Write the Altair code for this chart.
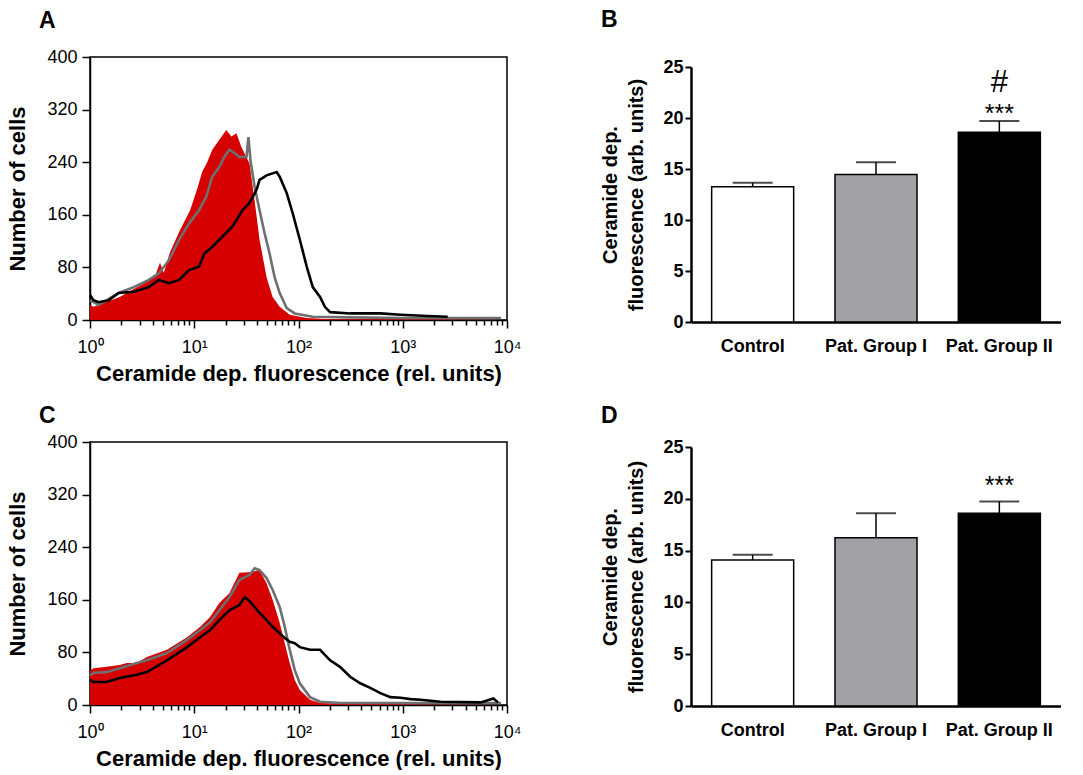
import altair as alt
import pandas as pd

FONT = "Liberation Sans"

# ---------------- Histogram data (fluorescence rel. units, number of cells) ----------------
RED_A_X = [1.0, 1.08, 1.35, 1.93, 2.81, 3.75, 4.2, 4.69, 5.1, 5.85, 7.31, 9.13, 10.7, 11.9, 13.3, 14.9,
           17.4, 20.3, 22.7, 25.4, 28.3, 33.9, 37.9, 42.3, 49.4, 56.5, 66.0, 82.4, 120, 200, 500, 2000, 8770]
RED_A_Y = [23, 20, 26, 35, 50, 61, 66, 87, 72, 103, 137, 167, 200, 225, 240, 259,
           274, 289, 279, 284, 263, 238, 182, 122, 65, 35, 20, 8, 3, 1, 1, 1, 0]
GRAY_A_X = [1.0, 1.21, 1.44, 1.88, 2.63, 3.67, 4.58, 5.72, 7.15, 8.93, 11.1, 13.0, 14.9, 17.4, 19.4, 21.7,
            24.3, 27.1, 31.7, 33.1, 34.6, 37.9, 42.3, 47.3, 52.8, 59.0, 66.0, 77.1, 92.1, 137, 300, 1000, 3000, 8770]
GRAY_A_Y = [30, 23, 30, 41, 50, 61, 71, 91, 122, 147, 167, 187, 218, 233, 248, 259,
            254, 248, 248, 278, 243, 203, 167, 132, 101, 65, 41, 18, 10, 5, 4, 3, 3, 3]
BLACK_A_X = [1.0, 1.08, 1.21, 1.51, 1.88, 2.63, 3.67, 4.58, 5.72, 7.15, 8.93, 11.1, 12.5, 14.6, 17.4, 23.2,
             29.0, 33.9, 39.6, 42.3, 49.4, 61.7, 66.0, 77.1, 88.1, 103, 120, 137, 161, 179, 201, 313, 488,
             610, 951, 1731, 2699]
BLACK_A_Y = [38, 30, 27, 30, 41, 43, 50, 61, 56, 61, 76, 81, 101, 110, 122, 142,
             167, 178, 198, 213, 220, 225, 218, 193, 162, 122, 81, 50, 35, 20, 12, 10, 10,
             10, 8, 6, 5]

RED_C_X = [1.0, 1.08, 1.44, 1.93, 2.25, 2.81, 3.51, 5.47, 8.54, 11.4, 14.2, 17.4, 21.7, 27.1, 33.9, 42.3,
           49.4, 56.5, 66.0, 73.8, 82.4, 92.1, 103, 129, 161, 300, 1000, 8770]
RED_C_Y = [52, 56, 58, 61, 64, 64, 73, 84, 103, 119, 134, 155, 170, 201, 202, 205,
           185, 160, 125, 94, 64, 38, 23, 8, 3, 2, 1, 0]
GRAY_C_X = [1.0, 1.08, 1.44, 1.93, 2.81, 3.51, 5.47, 8.54, 11.4, 14.2, 17.4, 21.7, 27.1, 33.9, 38.0, 42.3,
            49.4, 56.5, 66.0, 73.8, 82.4, 92.1, 103, 129, 161, 250, 1000, 8770]
GRAY_C_Y = [45, 49, 50, 56, 64, 68, 79, 99, 114, 126, 144, 164, 190, 198, 208, 205,
            193, 175, 149, 119, 84, 53, 33, 12, 5, 3, 3, 3]
BLACK_C_X = [1.0, 1.08, 1.44, 1.93, 2.81, 3.51, 5.47, 8.54, 11.4, 14.2, 17.4, 21.7, 27.1, 30.5, 33.9, 42.3,
             49.4, 56.5, 66.0, 73.8, 82.4, 92.1, 103, 129, 161, 201, 250, 313, 391, 488, 610, 761, 951,
             1187, 1483, 2311, 5620, 7400, 8200]
BLACK_C_Y = [38, 35, 35, 41, 46, 50, 68, 88, 103, 114, 129, 144, 152, 164, 158, 140,
             129, 119, 109, 102, 96, 94, 88, 84, 84, 68, 58, 43, 33, 26, 18, 12, 11,
             9, 8, 5, 4, 10, 4]

# ---------------- Bar data ----------------
GROUPS = ["Control", "Pat. Group I", "Pat. Group II"]
BAR_COLORS = ["#ffffff", "#a2a1a6", "#000000"]
B_MEAN = [13.25, 14.45, 18.6]
B_UPPER = [13.65, 15.65, 19.7]
D_MEAN = [14.1, 16.25, 18.6]
D_UPPER = [14.6, 18.6, 19.75]
B_MARKS = [("***", 20.35, 25), ("#", 23.4, 31)]
D_MARKS = [("***", 21.2, 25)]

X_TICKS = [m * d for d in [1, 10, 100, 1000] for m in range(1, 10)] + [10000]
Y_TICKS = list(range(0, 401, 10))

X_LABELS = ("datum.value==1?'10⁰':datum.value==10?'10¹':datum.value==100?'10²':"
            "datum.value==1000?'10³':datum.value==10000?'10⁴':''")


def letter_title(letter, dx, offset):
    return alt.TitleParams(letter, anchor="start", frame="group", fontSize=23, fontWeight="bold",
                           font=FONT, color="black", dx=dx, offset=offset)


def hist_panel(letter, rx, ry, gx, gy, bx, by, offset):
    red = pd.DataFrame({"x": rx, "y": ry})
    gray = pd.DataFrame({"x": gx, "y": gy})
    black = pd.DataFrame({"x": bx, "y": by})
    xs = alt.Scale(type="log", domain=[1, 10000], nice=False)
    ys = alt.Scale(domain=[0, 400], nice=False)
    xaxis = alt.Axis(values=X_TICKS, labelExpr=X_LABELS, labelOverlap=False, labelFlush=False,
                     tickSize={"condition": {"test": "indexof([1,10,100,1000,10000], datum.value) >= 0",
                                             "value": 8}, "value": 5},
                     tickColor="black", tickWidth=1.5, domainColor="black", domainWidth=1.5,
                     labelFontSize=18, labelColor="black", labelFont=FONT, labelPadding=10,
                     title="Ceramide dep. fluorescence (rel. units)", titleFont=FONT,
                     titleFontSize=22, titleFontWeight="bold", titleColor="black", titlePadding=7,
                     grid=False)
    yaxis = alt.Axis(values=Y_TICKS, labelExpr="datum.value % 80 == 0 ? datum.label : ''",
                     labelOverlap=False, labelFlush=False,
                     tickSize={"condition": {"test": "datum.value % 80 == 0", "value": 8}, "value": 5},
                     tickColor="black", tickWidth=1.5, domainColor="black", domainWidth=1.5,
                     labelFontSize=18, labelColor="black", labelFont=FONT, labelPadding=5,
                     title="Number of cells", titleFont=FONT, titleFontSize=22,
                     titleFontWeight="bold", titleColor="black", titlePadding=17, grid=False)
    area = alt.Chart(red).mark_area(color="#d70000", interpolate="linear").encode(
        x=alt.X("x:Q", scale=xs, axis=xaxis), y=alt.Y("y:Q", scale=ys, axis=yaxis))
    gline = alt.Chart(gray).mark_line(color="#6f6f6f", strokeWidth=2.6).encode(
        x=alt.X("x:Q", scale=xs), y=alt.Y("y:Q", scale=ys))
    bline = alt.Chart(black).mark_line(color="#000000", strokeWidth=2.6).encode(
        x=alt.X("x:Q", scale=xs), y=alt.Y("y:Q", scale=ys))
    return alt.layer(area, gline, bline).properties(
        width=417, height=263,
        view=alt.ViewBackground(stroke="black", strokeWidth=1.5),
        title=letter_title(letter, -51, offset))


def bar_panel(letter, means, uppers, marks, height, top_gap, offset):
    df = pd.DataFrame({"group": GROUPS, "mean": means, "upper": uppers, "color": BAR_COLORS})
    mk = pd.DataFrame({"group": ["Pat. Group II"] * len(marks),
                       "txt": [m[0] for m in marks], "pos": [m[1] for m in marks],
                       "size": [m[2] for m in marks]})
    xs = alt.Scale(domain=GROUPS, paddingInner=0.335, paddingOuter=0.1675)
    ys = alt.Scale(domain=[0, 25], nice=False, range=[height, top_gap])
    xenc = alt.X("group:N", sort=GROUPS, scale=xs,
                 axis=alt.Axis(title=None, labelAngle=0, ticks=False, labelFontWeight="bold",
                               labelFontSize=18, labelFont=FONT, labelColor="black", labelPadding=15,
                               domainColor="black", domainWidth=2.5))
    yaxis = alt.Axis(values=[0, 5, 10, 15, 20, 25], tickSize=6, tickColor="black", tickWidth=2,
                     domainColor="black", domainWidth=2.5, labelFontSize=18, labelFontWeight="bold",
                     labelFont=FONT, labelColor="black", labelPadding=2, grid=False,
                     title=["Ceramide dep.", "fluorescence (arb. units)"], titleFont=FONT,
                     titleFontSize=20, titleFontWeight="bold", titleColor="black",
                     titleLineHeight=26, titlePadding=16)
    base = alt.Chart(df)
    bars = base.mark_bar(stroke="black", strokeWidth=1.5).encode(
        x=xenc, y=alt.Y("mean:Q", scale=ys, axis=yaxis),
        fill=alt.Fill("color:N", scale=None))
    err = base.mark_rule(color="black", strokeWidth=1.5).encode(
        x=alt.X("group:N", sort=GROUPS, scale=xs), y=alt.Y("mean:Q", scale=ys), y2="upper:Q")
    cap = base.mark_tick(color="black", thickness=2, size=40, orient="horizontal").encode(
        x=alt.X("group:N", sort=GROUPS, scale=xs), y=alt.Y("upper:Q", scale=ys))
    txt = alt.Chart(mk).mark_text(color="black", font=FONT, baseline="middle").encode(
        x=alt.X("group:N", sort=GROUPS, scale=xs), y=alt.Y("pos:Q", scale=ys),
        text="txt:N", size=alt.Size("size:Q", scale=None))
    return alt.layer(bars, err, cap, txt).properties(
        width=370, height=height, title=letter_title(letter, -90, offset))


a = hist_panel("A", RED_A_X, RED_A_Y, GRAY_A_X, GRAY_A_Y, BLACK_A_X, BLACK_A_Y, 15)
c = hist_panel("C", RED_C_X, RED_C_Y, GRAY_C_X, GRAY_C_Y, BLACK_C_X, BLACK_C_Y, 5)
b = bar_panel("B", B_MEAN, B_UPPER, B_MARKS, 265, 10, 25)
d = bar_panel("D", D_MEAN, D_UPPER, D_MARKS, 264, 5, 10)

chart = alt.concat(a, b, c, d, columns=2, spacing={"row": 120, "column": 184}, bounds="flush").configure(
    font=FONT, padding={"left": 6, "top": 9, "right": 0, "bottom": 0}
).configure_view(stroke=None)

chart.save("out.html", embed_options={"renderer": "svg", "actions": False})
